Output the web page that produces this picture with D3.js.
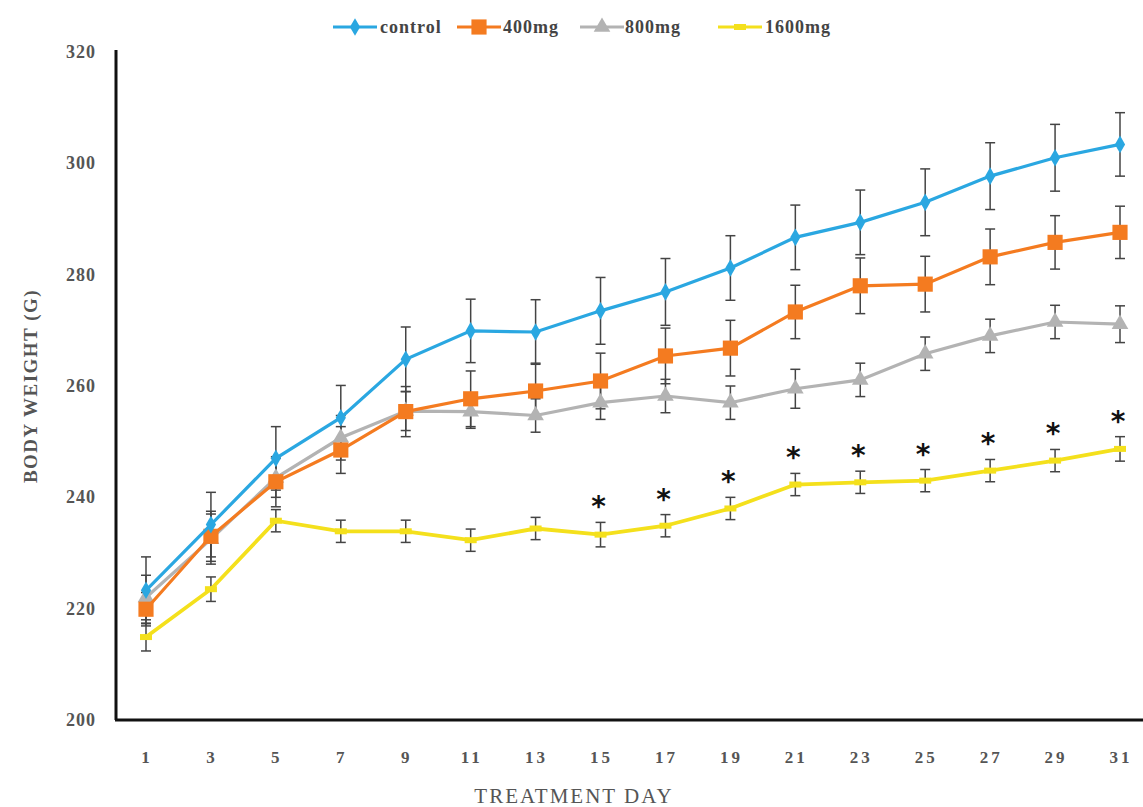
<!DOCTYPE html>
<html><head><meta charset="utf-8">
<script src="https://cdn.jsdelivr.net/npm/d3@7"></script>
<style>body{margin:0;background:#fff}svg{display:block}</style>
</head><body>
<svg id="c" width="1143" height="807"></svg>
<script>
const days = [1,3,5,7,9,11,13,15,17,19,21,23,25,27,29,31];
const control = [223.3,235.1,247.0,254.3,264.8,269.9,269.7,273.5,276.9,281.2,286.7,289.4,293.0,297.7,301.0,303.4];
const mg400   = [219.9,233.0,242.8,248.5,255.4,257.7,259.1,260.9,265.4,266.8,273.3,278.0,278.3,283.2,285.8,287.6];
const mg800   = [222.0,232.5,243.5,250.7,255.5,255.4,254.7,257.0,258.2,257.0,259.5,261.1,265.8,269.0,271.5,271.1];
const mg1600  = [214.9,223.5,235.8,233.9,233.9,232.3,234.4,233.3,234.9,238.0,242.3,242.7,243.0,244.8,246.6,248.7];
const errControl = [6.0,5.8,5.7,5.8,5.8,5.7,5.8,6.0,6.0,5.8,5.8,5.8,6.0,6.0,6.0,5.7];
const err400     = [3.0,4.5,4.5,4.2,4.5,5.0,5.0,5.0,5.0,5.0,4.8,5.0,5.0,5.0,4.8,4.7];
const err800     = [4.0,4.5,3.5,4.0,3.5,3.0,3.0,3.0,3.0,3.0,3.5,3.0,3.0,3.0,3.0,3.3];
const err1600    = [2.5,2.2,2.0,2.0,2.0,2.0,2.0,2.2,2.0,2.0,2.0,2.0,2.0,2.0,2.0,2.2];
const sigDays = [15,17,19,21,23,25,27,29,31];
const yTicks = [200,220,240,260,280,300,320];
const seriesNames = ["control","400mg","800mg","1600mg"];
const colors = ["#2aa7e1","#f47b20","#b3b3b3","#f4e01c"];

const svg = d3.select("#c");
const x = d3.scaleLinear().domain([1,31]).range([146,1120]);
const y = d3.scaleLinear().domain([200,320]).range([720,52]);
const serif = "'Liberation Serif','DejaVu Serif',serif";

// axes
svg.append("line").attr("x1",116).attr("x2",116).attr("y1",50).attr("y2",720)
  .attr("stroke","#111").attr("stroke-width",3);
svg.append("line").attr("x1",115).attr("x2",1143).attr("y1",720).attr("y2",720)
  .attr("stroke","#111").attr("stroke-width",3);

svg.selectAll("text.yt").data(yTicks).enter().append("text")
  .attr("x",96).attr("y",d=>y(d)+6).attr("text-anchor","end")
  .attr("font-family",serif).attr("font-weight","bold").attr("font-size",18)
  .attr("letter-spacing","1px").attr("fill","#555").text(d=>d);
svg.selectAll("text.xt").data(days).enter().append("text")
  .attr("x",d=>x(d)+1).attr("y",763).attr("text-anchor","middle")
  .attr("font-family",serif).attr("font-weight","bold").attr("font-size",17)
  .attr("letter-spacing","3px").attr("fill","#555").text(d=>d);

svg.append("text").attr("transform","translate(37,386) rotate(-90)")
  .attr("text-anchor","middle").attr("font-family",serif).attr("font-weight","bold")
  .attr("font-size",19).attr("letter-spacing","1.5px").attr("fill","#555").text("BODY WEIGHT (G)");
svg.append("text").attr("x",574).attr("y",803).attr("text-anchor","middle")
  .attr("font-family",serif).attr("font-size",21).attr("letter-spacing","2px")
  .attr("fill","#555").text("TREATMENT DAY");

const data = [
  {name:seriesNames[0], v:control, e:errControl, c:colors[0], sym:d3.symbolDiamond, size:90},
  {name:seriesNames[1], v:mg400, e:err400, c:colors[1], sym:d3.symbolSquare, size:230},
  {name:seriesNames[2], v:mg800, e:err800, c:colors[2], sym:d3.symbolTriangle, size:120},
  {name:seriesNames[3], v:mg1600, e:err1600, c:colors[3], sym:null, size:0}
];

// error bars
data.forEach(s=>{
  const g = svg.append("g").attr("stroke","#444").attr("stroke-width",1.5);
  days.forEach((d,i)=>{
    const xx = x(d), t = y(s.v[i]+s.e[i]), b = y(s.v[i]-s.e[i]);
    g.append("line").attr("x1",xx).attr("x2",xx).attr("y1",t).attr("y2",b);
    g.append("line").attr("x1",xx-5).attr("x2",xx+5).attr("y1",t).attr("y2",t);
    g.append("line").attr("x1",xx-5).attr("x2",xx+5).attr("y1",b).attr("y2",b);
  });
});

const line = d3.line().x((d,i)=>x(days[i])).y(d=>y(d));
[3,2,1,0].forEach(k=>{
  const s = data[k];
  svg.append("path").datum(s.v).attr("d",line).attr("fill","none")
    .attr("stroke",s.c).attr("stroke-width",k===3?3.8:3.2);
  if (s.sym) {
    svg.selectAll(null).data(s.v).enter().append("path")
      .attr("d",d3.symbol().type(s.sym).size(s.size))
      .attr("transform",(d,i)=>`translate(${x(days[i])},${y(d)})`)
      .attr("fill",s.c);
  } else {
    svg.selectAll(null).data(s.v).enter().append("rect")
      .attr("x",(d,i)=>x(days[i])-6).attr("y",d=>y(d)-3)
      .attr("width",12).attr("height",6).attr("fill",s.c);
  }
});

// significance asterisks
svg.selectAll("text.sig").data(sigDays).enter().append("text")
  .attr("x",d=>x(d)-2).attr("y",d=>{const i=days.indexOf(d);return y(mg1600[i]+err1600[i])-6;})
  .attr("text-anchor","middle").attr("font-family","'DejaVu Sans',sans-serif")
  .attr("font-weight","bold").attr("font-size",28).attr("fill","#111").text("*");

// legend
const leg = [
  {x1:333, tx:380},
  {x1:457, tx:503},
  {x1:580, tx:625},
  {x1:718, tx:765}
];
data.forEach((s,k)=>{
  const L = leg[k], cx = L.x1+22;
  svg.append("line").attr("x1",L.x1).attr("x2",L.x1+44).attr("y1",27).attr("y2",27)
    .attr("stroke",s.c).attr("stroke-width",3);
  if (s.sym) {
    svg.append("path").attr("d",d3.symbol().type(s.sym).size(s.size))
      .attr("transform",`translate(${cx},27)`).attr("fill",s.c);
  } else {
    svg.append("rect").attr("x",cx-6).attr("y",24).attr("width",12).attr("height",6).attr("fill",s.c);
  }
  svg.append("text").attr("x",L.tx).attr("y",33).attr("font-family",serif)
    .attr("font-weight","bold").attr("font-size",18).attr("letter-spacing","1px")
    .attr("fill","#444").text(s.name);
});
</script>
</body></html>
